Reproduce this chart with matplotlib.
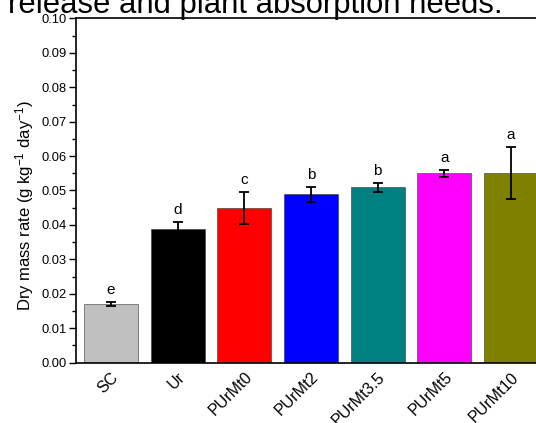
import matplotlib
matplotlib.use("Agg")
import matplotlib.pyplot as plt
from matplotlib.ticker import MultipleLocator

plt.rcParams['font.family'] = ['Liberation Sans', 'DejaVu Sans']
plt.rcParams['mathtext.fontset'] = 'custom'
plt.rcParams['mathtext.rm'] = 'Liberation Sans'
plt.rcParams['mathtext.it'] = 'Liberation Sans:italic'

categories = ["SC", "Ur", "PUrMt0", "PUrMt2", "PUrMt3.5", "PUrMt5", "PUrMt10"]
values = [0.0169, 0.0389, 0.0449, 0.0489, 0.0509, 0.0550, 0.0550]
errors = [0.0006, 0.0020, 0.0046, 0.0021, 0.0013, 0.0010, 0.0075]
letters = ["e", "d", "c", "b", "b", "a", "a"]
colors = ["#c0c0c0", "#000000", "#ff0000", "#0000ff", "#008080", "#ff00ff", "#808000"]

W, H = 536, 423
fig = plt.figure(figsize=(W/100, H/100), dpi=100)
ax = fig.add_axes([76/W, (H-362.5)/H, (546-76)/W, (362.5-18.5)/H])

x = list(range(len(categories)))
ax.bar(x, values, width=0.81, color=colors, edgecolor='#333333', linewidth=0.4, zorder=2)
ax.errorbar(x, values, yerr=errors, fmt='none', ecolor='black', elinewidth=1.3,
            capsize=3.5, capthick=1.3, zorder=3)
for xi, v, e, l in zip(x, values, errors, letters):
    ax.text(xi, v + e + 0.0015, l, ha='center', va='bottom', fontsize=11)

ax.set_xlim(-0.525, 6.525)
ax.set_ylim(0, 0.10)
ax.set_yticks([i/100 for i in range(11)])
ax.yaxis.set_minor_locator(MultipleLocator(0.005))
ax.set_yticklabels([f"{i/100:.2f}" for i in range(11)], fontsize=9.3)
ax.tick_params(axis='y', which='major', direction='out', length=5, width=1, pad=2)
ax.tick_params(axis='y', which='minor', direction='out', length=3, width=1)
ax.set_xticks(x)
ax.set_xticklabels(categories, rotation=45, ha='right', va='top', rotation_mode='anchor', fontsize=11.5)
ax.tick_params(axis='x', length=0, pad=5)
for s in ax.spines.values():
    s.set_linewidth(1.2)
ax.set_ylabel("Dry mass rate (g kg$^{-1}$ day$^{-1}$)", fontsize=12)
ax.yaxis.set_label_coords(-0.085, 0.455)

fig.text(8/W, 1 - 12.5/H, "release and plant absorption needs.", fontsize=22.3, va='baseline', ha='left')

fig.savefig("out.png", dpi=100)
